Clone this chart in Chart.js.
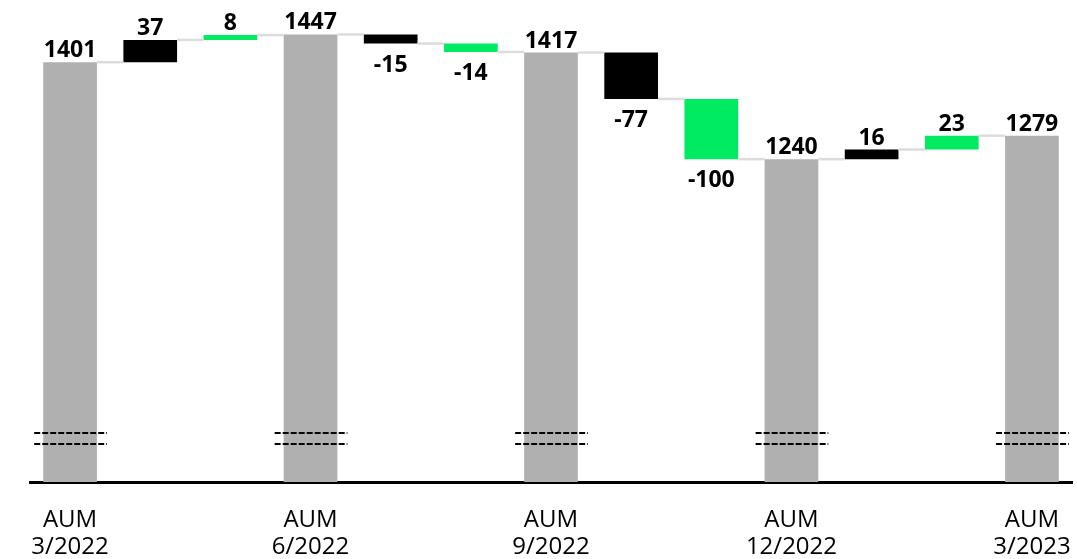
<!DOCTYPE html>
<html lang="en">
<head>
<meta charset="UTF-8">
<title>AUM Waterfall</title>
<script src="https://cdn.jsdelivr.net/npm/chart.js"></script>
<style>
  html, body { margin: 0; padding: 0; background: #fff; }
  #wrap { width: 1077px; height: 559px; }
</style>
</head>
<body>
<div id="wrap"><canvas id="grafico"></canvas></div>
<script>
// data
const categories = [['AUM', '3/2022'], '', '', ['AUM', '6/2022'], '', '', ['AUM', '9/2022'], '', '', ['AUM', '12/2022'], '', '', ['AUM', '3/2023']];
const values = [1401, 37, 8, 1447, -15, -14, 1417, -77, -100, 1240, 16, 23, 1279];
const kinds = ['total', 'first', 'second', 'total', 'first', 'second', 'total', 'first', 'second', 'total', 'first', 'second', 'total'];
const axisMin = 704;
const axisMax = 1481;

const colors = { total: '#b0b0b0', first: '#000000', second: '#00ea62' };

// running totals -> floating bars
let running = 0;
const ends = [];
const bars = values.map((v, i) => {
  if (kinds[i] === 'total') { running = v; ends.push(v); return v; }
  const start = running;
  running += v;
  ends.push(running);
  return [start, running];
});

const extras = {
  id: 'extras',
  afterDatasetsDraw(chart) {
    const ctx = chart.ctx;
    const meta = chart.getDatasetMeta(0);
    const y = chart.scales.y;
    const area = chart.chartArea;
    ctx.save();

    // connectors
    ctx.strokeStyle = '#dcdcdc';
    ctx.lineWidth = 2.5;
    for (let i = 0; i < meta.data.length - 1; i++) {
      const a = meta.data[i], b = meta.data[i + 1];
      const yy = y.getPixelForValue(ends[i]);
      ctx.beginPath();
      ctx.moveTo(a.x + a.width / 2, yy);
      ctx.lineTo(b.x - b.width / 2, yy);
      ctx.stroke();
    }

    // axis break marks on the total bars
    ctx.strokeStyle = '#000';
    ctx.lineWidth = 2;
    ctx.setLineDash([6, 2]);
    meta.data.forEach((el, i) => {
      if (kinds[i] !== 'total') return;
      [49, 38].forEach(off => {
        const yy = area.bottom - off;
        ctx.beginPath();
        ctx.moveTo(el.x - el.width / 2 - 9, yy);
        ctx.lineTo(el.x + el.width / 2 + 10, yy);
        ctx.stroke();
      });
    });
    ctx.setLineDash([]);

    // value labels
    ctx.font = 'bold 23px "Open Sans"';
    ctx.fillStyle = '#000';
    ctx.textAlign = 'center';
    ctx.textBaseline = 'alphabetic';
    meta.data.forEach((el, i) => {
      const top = Math.min(el.y, el.base);
      const bottom = Math.max(el.y, el.base);
      if (values[i] < 0) ctx.fillText(String(values[i]), el.x, bottom + 28);
      else ctx.fillText(String(values[i]), el.x, top - 5);
    });
    ctx.restore();
  }
};

new Chart(document.getElementById('grafico'), {
  type: 'bar',
  data: {
    labels: categories,
    datasets: [{
      data: bars,
      backgroundColor: kinds.map(k => colors[k]),
      borderWidth: 0,
      barPercentage: 0.67,
      categoryPercentage: 1
    }]
  },
  options: {
    responsive: true,
    maintainAspectRatio: false,
    animation: false,
    layout: { padding: { left: 30, right: 5, top: 14, bottom: 0 } },
    plugins: { legend: { display: false }, tooltip: { enabled: false } },
    scales: {
      x: {
        grid: { display: false, drawTicks: false },
        border: { display: true, color: '#000', width: 3 },
        ticks: {
          autoSkip: false,
          maxRotation: 0,
          color: '#000',
          padding: 25,
          font: { family: '"Open Sans"', size: 24, lineHeight: 1.125 }
        },
        afterFit(s) {
          s.height = 77;
          s.paddingLeft = 0;
          s.paddingRight = 0;
        }
      },
      y: {
        display: false,
        min: axisMin,
        max: axisMax
      }
    }
  },
  plugins: [extras]
});
</script>
</body>
</html>
